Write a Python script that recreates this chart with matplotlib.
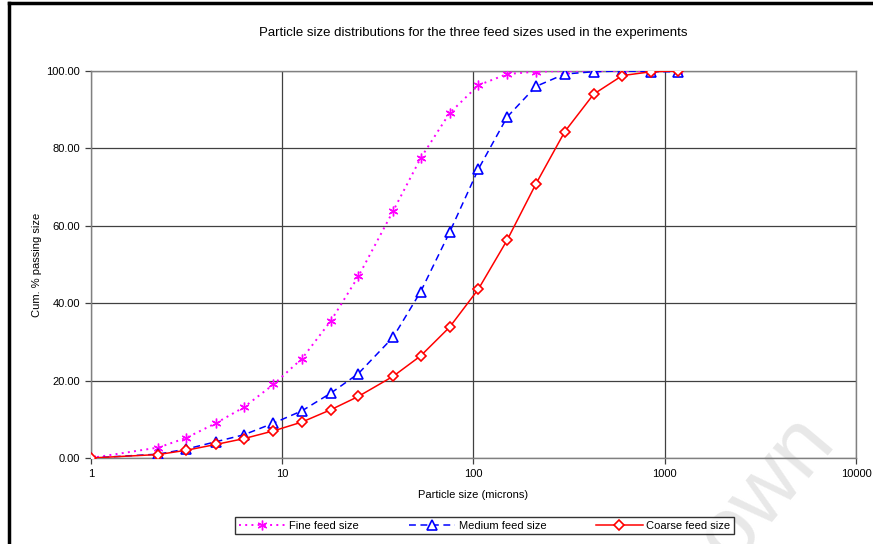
import numpy as np
import matplotlib.pyplot as plt
from matplotlib.lines import Line2D
from matplotlib.ticker import FixedLocator, FormatStrFormatter, NullLocator

plt.rcParams['font.family'] = ['Liberation Sans', 'DejaVu Sans']

# sieve sizes (microns) and cumulative % passing for each feed
sizes = [1, 2.25, 3.15, 4.5, 6.3, 9, 12.7, 18, 25, 38, 53, 75, 106, 150,
         212, 300, 425, 600, 850, 1180]
fine = [0.0, 2.7, 5.2, 9.0, 13.1, 19.0, 25.7, 35.5, 46.9, 63.8, 77.5, 89.1,
        96.3, 99.2, 99.8, 100.0, 100.0, 100.0, 100.0, 100.0]
medium = [0.0, 1.0, 2.3, 4.2, 6.0, 9.0, 12.2, 16.8, 21.8, 31.2, 43.0, 58.3,
          74.6, 88.1, 96.0, 99.2, 99.8, 100.0, 99.8, 99.8]
coarse = [0.0, 0.9, 2.0, 3.5, 5.0, 7.0, 9.3, 12.5, 15.9, 21.1, 26.4, 33.8,
          43.6, 56.3, 70.8, 84.3, 94.0, 98.8, 99.8, 100.0]

labels = ['Fine feed size', 'Medium feed size', 'Coarse feed size']

fig = plt.figure(figsize=(8.73, 5.44), dpi=100)

# watermark sits behind everything
fig.text(0.878, 0.1, 'own', rotation=50, fontsize=64, color='#e8e8e8',
         ha='center', va='center', zorder=-5)

ax = fig.add_axes([0.1042, 0.1581, 0.8763, 0.7115])
ax.patch.set_alpha(0)

ax.plot(sizes, fine, color='#ff00ff', linestyle=(0, (1, 2.2)), lw=1.4,
        marker=(6, 2, 0), ms=7, mew=1.0, label=labels[0], zorder=3)
ax.plot(sizes, medium, color='#0000ff', linestyle=(0, (4.5, 3)), lw=1.1,
        marker='^', ms=6.5, mfc='white', mec='#0000ff', mew=1.2,
        label=labels[1], zorder=4)
ax.plot(sizes, coarse, color='#ff0000', linestyle='-', lw=1.1,
        marker='D', ms=5.5, mfc='white', mec='#ff0000', mew=1.2,
        label=labels[2], zorder=5)

ax.set_xscale('log')
ax.set_xlim(1, 10000)
ax.set_ylim(0, 100)
ax.xaxis.set_major_locator(FixedLocator([1, 10, 100, 1000, 10000]))
ax.xaxis.set_major_formatter(FormatStrFormatter('%d'))
ax.xaxis.set_minor_locator(NullLocator())
ax.yaxis.set_major_locator(FixedLocator([0, 20, 40, 60, 80, 100]))
ax.yaxis.set_major_formatter(FormatStrFormatter('%.2f'))

ax.grid(True, color='#404040', lw=0.9)
ax.set_axisbelow(True)
for s in ax.spines.values():
    s.set_color('#808080')
    s.set_linewidth(1.0)
ax.tick_params(direction='out', length=4, width=0.9, color='#404040',
               labelsize=8, pad=4)

ax.set_title('Particle size distributions for the three feed sizes used in the experiments',
             fontsize=9.5, pad=25)
ax.set_xlabel('Particle size (microns)', fontsize=8, labelpad=8)
ax.set_ylabel('Cum. % passing size', fontsize=8, labelpad=3)

fig.legend(loc='center', bbox_to_anchor=(0.555, 0.034), ncol=3, fontsize=8,
           frameon=True, fancybox=False, edgecolor='black', borderpad=0.35,
           handlelength=4.2, columnspacing=4.5, handletextpad=0.3)

# chart frame
fig.add_artist(Line2D([0.0098, 1.0], [0.9954, 0.9954], color='black', lw=2.5,
                      transform=fig.transFigure))
fig.add_artist(Line2D([0.0098, 0.0098], [0.0, 0.9954], color='black', lw=2.5,
                      transform=fig.transFigure))

fig.savefig('out.png', dpi=100)
